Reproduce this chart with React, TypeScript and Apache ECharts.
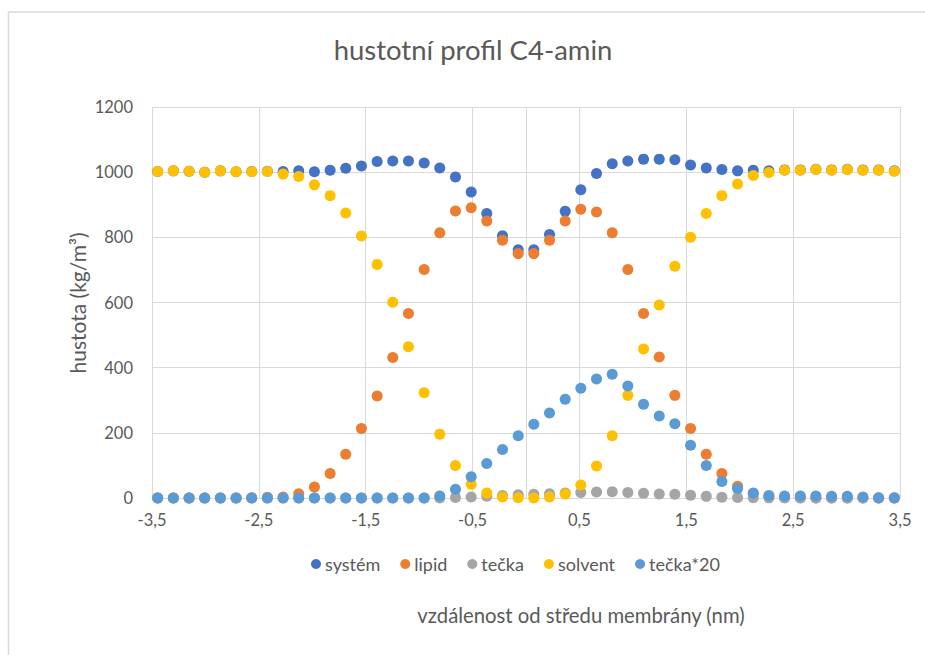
import React, { useEffect, useRef } from "react";
import * as echarts from "echarts";

const xNm = [-3.447, -3.3, -3.153, -3.007, -2.86, -2.713, -2.567, -2.42, -2.273, -2.127, -1.98, -1.833, -1.687, -1.54, -1.393, -1.247, -1.1, -0.953, -0.807, -0.66, -0.513, -0.367, -0.22, -0.073, 0.073, 0.22, 0.367, 0.513, 0.66, 0.807, 0.953, 1.1, 1.247, 1.393, 1.54, 1.687, 1.833, 1.98, 2.127, 2.273, 2.42, 2.567, 2.713, 2.86, 3.007, 3.153, 3.3, 3.447];

const system = [1002, 1004, 1003, 1000, 1004, 1001, 1002, 1003, 1002, 1004, 1001, 1006, 1012, 1019, 1033, 1034, 1034, 1028, 1013, 985, 939, 873, 805, 762, 762, 809, 880, 946, 996, 1026, 1034, 1040, 1040, 1038, 1022, 1013, 1008, 1004, 1006, 1004, 1007, 1007, 1009, 1007, 1009, 1007, 1007, 1004];

const lipid = [0, 0, 0, 0, 0, 0, 1, 2, 3, 13, 34, 75, 134, 213, 313, 431, 566, 701, 814, 881, 891, 850, 791, 750, 750, 791, 850, 886, 878, 814, 701, 566, 433, 315, 213, 134, 75, 36, 14, 5, 2, 1, 0, 0, 0, 0, 0, 0];

const tecka = [0, 0, 0, 0, 0, 0, 0, 0, 0, 0, 0, 0, 0, 0, 0, 0, 0, 0, 0.3, 1.4, 3.3, 5.3, 7.5, 9.6, 11.3, 13.1, 15.2, 16.9, 18.3, 19, 17.2, 14.4, 12.6, 11.4, 8.1, 5, 2.6, 1.5, 0.8, 0.4, 0.3, 0.3, 0.3, 0.3, 0.3, 0.2, 0.1, 0.1];

const solvent = [1002, 1004, 1003, 1000, 1004, 1001, 1001, 1002, 994, 987, 961, 928, 875, 804, 717, 601, 464, 323, 196, 100, 42, 15, 3, 1, 0, 3, 12, 40, 98, 191, 315, 457, 592, 711, 800, 873, 928, 964, 990, 999, 1006, 1006, 1008, 1006, 1008, 1006, 1006, 1003];

const tecka20 = [0, 0, 0, 0, 0, 0, 0, 0, 0, 0, 0, 0, 0, 0, 0, 0, 0, 0, 6, 27, 65, 106, 149, 191, 226, 261, 303, 337, 365, 380, 344, 288, 252, 228, 162, 100, 51, 29, 15, 8, 6, 6, 6, 5, 5, 3, 1, 1];

const seriesNames = ["systém", "lipid", "tečka", "solvent", "tečka*20"];
const seriesValues = [system, lipid, tecka, solvent, tecka20];
const seriesColors = ["#4472C4", "#ED7D31", "#A5A5A5", "#FFC000", "#5B9BD5"];

const titleText = "hustotní profil C4-amin";
const xTitle = "vzdálenost od středu membrány (nm)";
const yTitle = "hustota (kg/m³)";

const FONT = "Lato, 'Open Sans', sans-serif";
const TEXT = "#595959";
const GRID = "#d9d9d9";

export default function App() {
  const ref = useRef<HTMLDivElement>(null);
  useEffect(() => {
    if (!ref.current) return;
    const chart = echarts.init(ref.current, null, { renderer: "svg" });
    chart.setOption({
      animation: false,
      backgroundColor: "#ffffff",
      textStyle: { fontFamily: FONT },
      grid: { left: 152, right: 25, top: 107, bottom: 157, containLabel: false },
      xAxis: {
        type: "value",
        min: -3.5,
        max: 3.5,
        interval: 1,
        axisLine: { show: true, onZero: false, lineStyle: { color: GRID, width: 1 } },
        axisTick: { show: false },
        splitLine: { show: true, lineStyle: { color: GRID, width: 1 } },
        axisLabel: {
          color: TEXT,
          fontSize: 16.5,
          fontFamily: FONT,
          margin: 13,
          formatter: (v: number) => v.toFixed(1).replace(".", ","),
        },
      },
      yAxis: {
        type: "value",
        min: 0,
        max: 1200,
        interval: 200,
        axisLine: { show: true, lineStyle: { color: GRID, width: 1 } },
        axisTick: { show: false },
        splitLine: { show: true, lineStyle: { color: GRID, width: 1 } },
        axisLabel: { color: TEXT, fontSize: 16.5, fontFamily: FONT, margin: 19, formatter: (v: number) => String(v) },
      },
      legend: {
        data: seriesNames,
        left: 306,
        top: 550,
        icon: "circle",
        itemWidth: 10,
        itemHeight: 10,
        itemGap: 20,
        textStyle: { color: TEXT, fontSize: 18, fontFamily: FONT, padding: [0, 0, 0, -1] },
      },
      series: seriesNames.map((name, k) => ({
        name,
        type: "scatter",
        symbol: "circle",
        symbolSize: 11,
        itemStyle: { color: seriesColors[k], opacity: 1 },
        data: xNm.map((x, i) => [x, seriesValues[k][i]]),
        z: 2 + k,
      })),
      graphic: [
        { type: "line", shape: { x1: 8.5, y1: 12, x2: 925, y2: 12 }, style: { stroke: GRID, lineWidth: 1.5 } },
        { type: "line", shape: { x1: 8.5, y1: 12, x2: 8.5, y2: 655 }, style: { stroke: GRID, lineWidth: 1.5 } },
        {
          type: "text",
          x: 473,
          y: 49,
          style: { text: titleText, fill: TEXT, fontSize: 27.5, fontFamily: FONT, textAlign: "center", textVerticalAlign: "middle" },
        },
        {
          type: "text",
          x: 581,
          y: 615,
          style: { text: xTitle, fill: TEXT, fontSize: 20.3, fontFamily: FONT, textAlign: "center", textVerticalAlign: "middle" },
        },
        {
          type: "text",
          x: 77,
          y: 303,
          rotation: Math.PI / 2,
          style: { text: yTitle, fill: TEXT, fontSize: 21, fontFamily: FONT, textAlign: "center", textVerticalAlign: "middle" },
        },
      ],
    });
    return () => chart.dispose();
  }, []);
  return <div ref={ref} style={{ position: "fixed", left: 0, top: 0, width: 925, height: 655 }} />;
}
